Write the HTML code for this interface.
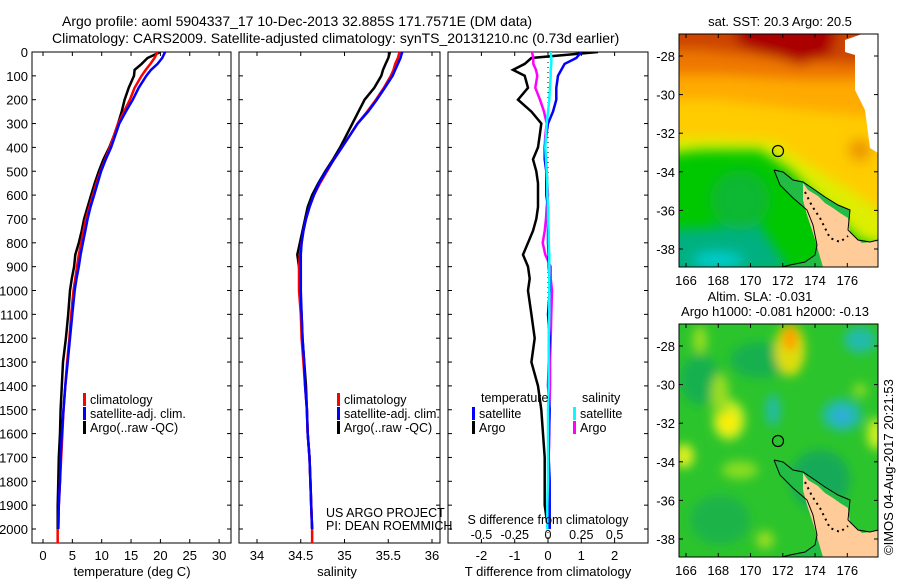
<!DOCTYPE html>
<html><head><meta charset="utf-8"><style>
body{margin:0;background:#fff;}
svg{display:block;font-family:"Liberation Sans",sans-serif;}
text{fill:#000;}
</style></head><body>
<svg id="fig" width="900" height="580" viewBox="0 0 900 580" xmlns="http://www.w3.org/2000/svg">
<defs>
<clipPath id="c1"><rect x="32" y="52" width="199" height="491"/></clipPath>
<clipPath id="c2"><rect x="239" y="52" width="201" height="491"/></clipPath>
<clipPath id="c3"><rect x="448" y="52" width="200" height="491"/></clipPath>
<clipPath id="m1"><rect x="679" y="34" width="199" height="233"/></clipPath>
<clipPath id="m2"><rect x="679" y="324" width="199" height="233"/></clipPath>
<filter id="bl" x="-50%" y="-50%" width="200%" height="200%"><feGaussianBlur stdDeviation="6"/></filter>
<filter id="bl2" x="-50%" y="-50%" width="200%" height="200%"><feGaussianBlur stdDeviation="5"/></filter>
</defs>
<text x="62" y="26" font-size="14">Argo profile: aoml 5904337_17 10-Dec-2013 32.885S 171.7571E (DM data)</text>
<text x="52" y="43" font-size="14">Climatology: CARS2009. Satellite-adjusted climatology: synTS_20131210.nc (0.73d earlier)</text>
<g id="p1"></g>
<g id="p2"></g>
<g id="p3"></g>
<g id="map1"></g>
<g id="map2"></g>
<text transform="translate(893,555) rotate(-90)" font-size="13">©IMOS 04-Aug-2017 20:21:53</text>
</svg>
<script>
// ---- data ----
const depths = [0,25,50,75,100,150,200,250,300,350,400,450,500,550,600,650,700,750,800,850,900,950,1000,1100,1200,1300,1400,1500,1600,1700,1800,1900,2000];
const tempClim = [19.5,19.0,18.3,17.5,16.8,15.6,14.8,13.8,12.8,12.1,11.4,10.6,9.8,9.1,8.5,7.9,7.3,6.9,6.5,6.1,5.8,5.5,5.2,4.8,4.5,4.1,3.8,3.5,3.3,3.1,2.9,2.7,2.6];
const tempSat  = [20.8,20.3,19.5,18.4,17.6,16.3,15.3,14.1,13.0,12.3,11.6,10.7,9.9,9.3,8.7,8.1,7.6,7.2,6.8,6.4,6.1,5.7,5.4,5.0,4.6,4.2,3.8,3.5,3.2,3.0,2.9,2.7,2.6];
const tempArgo = [20.0,17.8,16.8,15.6,15.5,14.6,13.9,13.4,12.8,12.1,11.3,10.3,9.5,8.8,8.2,7.6,7.0,6.6,6.1,5.5,5.3,4.9,4.6,4.3,3.9,3.4,3.2,3.0,2.9,2.7,2.6,2.5,2.5];
const salClim = [35.63,35.61,35.58,35.56,35.53,35.45,35.36,35.26,35.15,35.06,34.97,34.88,34.80,34.72,34.65,34.60,34.56,34.53,34.51,34.49,34.48,34.48,34.48,34.50,34.51,34.53,34.55,34.57,34.58,34.60,34.61,34.62,34.63];
const salSat  = [35.66,35.64,35.61,35.58,35.55,35.46,35.37,35.27,35.15,35.06,34.97,34.88,34.79,34.71,34.65,34.60,34.56,34.53,34.51,34.50,34.50,34.50,34.50,34.51,34.52,34.54,34.55,34.57,34.58,34.60,34.61,34.62,34.63];
const salArgo = [35.52,35.50,35.47,35.44,35.42,35.34,35.23,35.16,35.09,35.02,34.95,34.87,34.78,34.70,34.63,34.58,34.55,34.52,34.49,34.46,34.48,34.49,34.49,34.51,34.52,34.54,34.56,34.57,34.58,34.60,34.61,34.62,34.63];
const dTempArgo = [1.5,-0.5,-0.7,-1.05,-0.7,-0.6,-0.9,-0.5,-0.2,-0.25,-0.3,-0.45,-0.35,-0.3,-0.3,-0.3,-0.35,-0.45,-0.6,-0.75,-0.6,-0.55,-0.6,-0.5,-0.4,-0.5,-0.3,-0.2,-0.15,-0.1,-0.1,-0.1,0.0];
const dTempSat  = [1.0,0.85,0.5,0.4,0.3,0.25,0.25,0.15,0.0,-0.05,-0.1,-0.1,-0.05,-0.05,-0.05,0.0,0.0,0.0,0.0,0.02,0.02,0.05,0.05,0.0,0.05,0.02,0.0,0.05,0.03,0.02,0.05,0.05,0.05];
const dSalArgo = [-0.12,-0.11,-0.11,-0.09,-0.08,-0.095,-0.06,-0.03,-0.01,-0.02,-0.025,-0.015,-0.01,-0.005,0.0,-0.01,-0.015,-0.025,-0.04,-0.02,0.02,0.02,0.03,0.025,0.02,0.015,0.015,0.01,0.01,0.005,0.005,0.0,0.0];
const dSalSat  = [0.02,0.025,0.025,0.02,0.02,0.015,0.01,0.0,-0.01,-0.015,-0.02,-0.015,-0.01,-0.005,-0.005,0.0,0.0,0.005,0.005,0.01,0.01,0.01,0.01,0.01,0.005,0.005,0.005,0.0,0.0,0.0,0.0,-0.005,-0.005];
const depthTicks = [0,100,200,300,400,500,600,700,800,900,1000,1100,1200,1300,1400,1500,1600,1700,1800,1900,2000];
const tempTicks = [0,5,10,15,20,25,30];
const salTicks = [34,34.5,35,35.5,36];
const salTickLabels = ['34','34.5','35','35.5','36'];
const dTTicks = [-2,-1,0,1,2];
const dSTicks = [-0.5,-0.25,0,0.25,0.5];
const dSTickLabels = ['-0.5','-0.25','0','0.25','0.5'];
const lonTicks = [166,168,170,172,174,176];
const latTicks = [-28,-30,-32,-34,-36,-38];

const NS='http://www.w3.org/2000/svg';
function mk(tag,attrs,parent,txt){const e=document.createElementNS(NS,tag);for(const k in attrs)e.setAttribute(k,attrs[k]);if(txt!==undefined)e.textContent=txt;parent.appendChild(e);return e;}
const BOT = 543;
const yD = d => 52 + d*0.2385;
const xT = t => 43 + t*5.87;
const xS = s => 257 + (s-34)*87.5;
const xdT = v => 548 + v*33.3;
const xdS = v => 548 + v*133.2;

function frame(g,x0,x1,xt,ticks,labels,ylabelsLeft){
  mk('rect',{x:x0,y:52,width:x1-x0,height:BOT-52,fill:'none',stroke:'#000','stroke-width':1},g);
  depthTicks.forEach(d=>{
    const y=yD(d);
    const t1=mk('line',{x1:x0,y1:y,x2:x0+4,y2:y,stroke:'#000'},g);
    
    
    mk('line',{x1:x1,y1:y,x2:x1-4,y2:y,stroke:'#000'},g);
    if(ylabelsLeft){const t=mk('text',{x:x0-4,y:y+5,'font-size':13,'text-anchor':'end'},g,String(d));
      
      }
  });
  ticks.forEach((v,i)=>{
    const x=xt(v);
    mk('line',{x1:x,y1:BOT,x2:x,y2:BOT-4,stroke:'#000'},g);
    mk('line',{x1:x,y1:52,x2:x,y2:56,stroke:'#000'},g);
    const t=mk('text',{x:x,y:560,'font-size':13,'text-anchor':'middle'},g,labels[i]);
    
    
  });
}
function line(g,xs,fx,color,clip,name){
  const pts=xs.map((v,i)=>fx(v).toFixed(1)+','+yD(depths[i]).toFixed(1)).join(' ');
  const p=mk('polyline',{points:pts,fill:'none',stroke:color,'stroke-width':2.5,'clip-path':'url(#'+clip+')'},g);
  
  
}
function legend(g,x,y,color,label){
  mk('rect',{x:x,y:y-11,width:3,height:13,fill:color},g);
  const t=mk('text',{x:x+7,y:y,'font-size':12.5},g,label);
  
  
}
// panel 1
const p1=document.getElementById('p1');
frame(p1,32,231,xT,tempTicks,tempTicks.map(String),true);
line(p1,tempArgo,xT,'#000','c1','argo-temp-line');
line(p1,tempClim,xT,'#f00','c1','clim-temp-line');
line(p1,tempSat,xT,'#00f','c1','sat-temp-line');
mk('line',{x1:xT(2.5),y1:yD(2000),x2:xT(2.5),y2:BOT,stroke:'#f00','stroke-width':2.5},p1);
mk('text',{x:132,y:576,'font-size':13,'text-anchor':'middle'},p1,'temperature (deg C)');
legend(p1,83,404,'#f00','climatology');legend(p1,83,418,'#00f','satellite-adj. clim.');legend(p1,83,432,'#000','Argo(..raw -QC)');
// panel 2
const p2=document.getElementById('p2');
frame(p2,239,440,xS,salTicks,salTickLabels,false);
line(p2,salArgo,xS,'#000','c2','argo-sal-line');
line(p2,salClim,xS,'#f00','c2','clim-sal-line');
line(p2,salSat,xS,'#00f','c2','sat-sal-line');
mk('line',{x1:xS(34.63),y1:yD(2000),x2:xS(34.63),y2:BOT,stroke:'#f00','stroke-width':2.5},p2);
mk('text',{x:337,y:576,'font-size':13,'text-anchor':'middle'},p2,'salinity');
legend(p2,337,404,'#f00','climatology');legend(p2,337,418,'#00f','satellite-adj. clim.');legend(p2,337,432,'#000','Argo(..raw -QC)');
mk('text',{x:326,y:517,'font-size':12.5},p2,'US ARGO PROJECT');
mk('text',{x:326,y:530,'font-size':12.5},p2,'PI: DEAN ROEMMICH');
// panel 3
const p3=document.getElementById('p3');
frame(p3,448,648,xdT,dTTicks,dTTicks.map(String),false);
mk('line',{x1:548,y1:52,x2:548,y2:BOT,stroke:'#000','stroke-dasharray':'1 4'},p3);
line(p3,dTempArgo,xdT,'#000','c3','argo-tdiff-line');
line(p3,dSalArgo,xdS,'#f0f','c3','argo-sdiff-line');
line(p3,dTempSat,xdT,'#00f','c3','sat-tdiff-line');
line(p3,dSalSat,xdS,'#0ff','c3','sat-sdiff-line');
mk('text',{x:481,y:402,'font-size':12.5},p3,'temperature');
mk('text',{x:582,y:402,'font-size':12.5},p3,'salinity');
legend(p3,472,418,'#00f','satellite');legend(p3,472,432,'#000','Argo');
legend(p3,573,418,'#0ff','satellite');legend(p3,573,432,'#f0f','Argo');
mk('text',{x:548,y:524,'font-size':12.5,'text-anchor':'middle'},p3,'S difference from climatology');
dSTicks.forEach((v,i)=>{const t=mk('text',{x:xdS(v),y:539,'font-size':12.5,'text-anchor':'middle'},p3,dSTickLabels[i]);
  
  });
mk('text',{x:548,y:576,'font-size':13,'text-anchor':'middle'},p3,'T difference from climatology');

// maps
const lonX = l => 686 + (l-166)*16.13;
function mapFrame(g,oy){
  mk('rect',{x:679,y:34+oy,width:199,height:233,fill:'none',stroke:'#000'},g);
  latTicks.forEach(la=>{const y=56+oy+(-28-la)*19.3;
    mk('line',{x1:679,y1:y,x2:683,y2:y,stroke:'#000'},g);mk('line',{x1:878,y1:y,x2:874,y2:y,stroke:'#000'},g);
    mk('text',{x:675,y:y+5,'font-size':13,'text-anchor':'end'},g,String(la));});
  lonTicks.forEach(lo=>{const x=lonX(lo);
    mk('line',{x1:x,y1:34+oy,x2:x,y2:38+oy,stroke:'#000'},g);mk('line',{x1:x,y1:267+oy,x2:x,y2:263+oy,stroke:'#000'},g);
    mk('text',{x:x,y:285+oy,'font-size':13,'text-anchor':'middle'},g,String(lo));});
}
function nz(g,oy){
  const sh=s=>s.split(' ').map(p=>{const [x,y]=p.split(',').map(Number);return x+','+(y+oy);}).join(' ');
  mk('polygon',{points:sh('774,170 783,172 793,180 803,182 815,190 825,197 838,205 850,210 848,230 858,240 870,242 878,240 878,267 782,267 790,265 805,262 815,255 817,245 813,225 807,210 793,198 780,185'),fill:'#22bb44',stroke:'none'},g);
  mk('polygon',{points:sh('803,183 808,190 818,196 825,203 833,208 840,213 848,218 850,233 862,243 878,241 878,267 823,267 818,250 813,233 807,215 803,200'),fill:'#ffcc99',stroke:'none'},g);
  mk('polyline',{points:sh('774,170 783,172 793,180 803,182 815,190 825,197 838,205 850,210 848,230 858,240 870,242 878,240'),fill:'none',stroke:'#000','stroke-width':1},g);
  mk('polyline',{points:sh('774,170 780,185 793,198 807,210 813,225 817,245 815,255 805,262 790,265 782,267'),fill:'none',stroke:'#000','stroke-width':1},g);
  mk('polyline',{points:sh('805,192 812,206 820,218 826,230 830,238 840,242 848,236'),fill:'none',stroke:'#000','stroke-width':2,'stroke-dasharray':'2 4'},g);
  const c=mk('circle',{cx:778,cy:151+oy,r:5.5,fill:'none',stroke:'#000','stroke-width':1.2},g);
  
  
}
// map 1: SST
const m1=document.getElementById('map1');
mk('text',{x:780,y:26,'font-size':13,'text-anchor':'middle'},m1,'sat. SST: 20.3 Argo: 20.5');
const g1=mk('g',{'clip-path':'url(#m1)'},m1);
mk('rect',{x:679,y:34,width:199,height:233,fill:'#00c800'},g1);
const b1=mk('g',{filter:'url(#bl)'},g1);
mk('polygon',{points:'660,20 900,20 900,250 860,240 820,200 790,170 760,150 700,150 660,155',fill:'#ddee00'},b1);
mk('polygon',{points:'660,20 900,20 900,225 850,190 800,160 775,142 720,138 660,138',fill:'#ffcc00'},b1);
mk('polygon',{points:'660,20 900,20 900,120 800,110 720,100 660,100',fill:'#ffaa00'},b1);
mk('polygon',{points:'660,20 900,20 900,80 800,80 720,75 660,75',fill:'#ee7700'},b1);
mk('polygon',{points:'660,20 900,20 860,65 800,60 700,50 660,50',fill:'#cc4400'},b1);
mk('polygon',{points:'730,20 840,20 830,55 800,65 770,55 740,45',fill:'#aa0000'},b1);
mk('polygon',{points:'660,230 760,225 790,270 660,280',fill:'#00b080'},b1);
mk('ellipse',{cx:718,cy:260,rx:25,ry:8,fill:'#00cccc'},b1);
mk('ellipse',{cx:860,cy:150,rx:12,ry:12,fill:'#ee9900'},b1);
mk('ellipse',{cx:740,cy:200,rx:30,ry:30,fill:'#10b830'},b1);
mk('polygon',{points:'862,34 878,34 878,153 870,148 865,110 855,90 855,55 845,52 845,40',fill:'#fff'},g1);
nz(g1,0);
mapFrame(m1,0);
// map 2: SLA
const m2=document.getElementById('map2');
mk('text',{x:760,y:301,'font-size':13,'text-anchor':'middle'},m2,'Altim. SLA: -0.031');
mk('text',{x:775,y:316,'font-size':13,'text-anchor':'middle'},m2,'Argo h1000: -0.081 h2000: -0.13');
const g2=mk('g',{'clip-path':'url(#m2)'},m2);
mk('rect',{x:679,y:324,width:199,height:233,fill:'#2cc42c'},g2);
const b2=mk('g',{filter:'url(#bl2)'},g2);
[[760,360,30,18,'#18b050'],[700,380,20,25,'#18b050'],[820,480,30,30,'#14aa58'],[720,520,30,25,'#1cb44a'],
 [790,350,15,26,'#dddd11'],[790,338,7,13,'#ff9900'],[729,420,16,20,'#ccee22'],[728,422,9,10,'#ffee00'],[842,415,20,16,'#22bbaa'],[842,416,9,7,'#33aadd'],[773,410,7,16,'#22bbaa'],[876,434,9,16,'#ccee22'],[684,456,10,12,'#ddee22'],[700,340,7,14,'#99dd22'],[860,340,16,13,'#22bbaa'],[740,470,18,9,'#88dd22'],[765,540,9,9,'#99dd22'],[860,390,7,7,'#88dd22'],[720,395,9,22,'#99dd22']].forEach(a=>{
  mk('ellipse',{cx:a[0],cy:a[1],rx:a[2],ry:a[3],fill:a[4]},b2);});
nz(g2,290);
mapFrame(m2,290);
</script>
</body></html>
